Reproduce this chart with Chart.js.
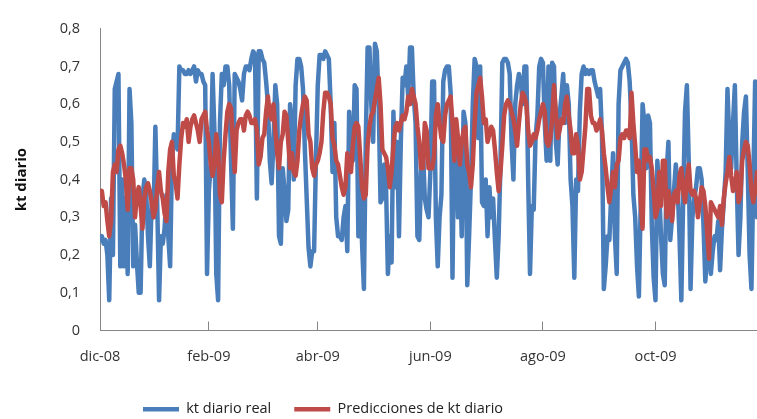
<!DOCTYPE html>
<html>
<head>
<meta charset="utf-8">
<script src="https://cdn.jsdelivr.net/npm/chart.js@4"></script>
<style>
  body { margin: 0; background: #fff; }
  #chart { display: block; }
</style>
</head>
<body>
<canvas id="chart" width="757" height="419"></canvas>
<script>
// kt diario real, one value per day from 4 dic 2008
const ktReal = [
  0.24, 0.25, 0.23, 0.24, 0.20, 0.08, 0.35, 0.20, 0.64, 0.66,
  0.68, 0.17, 0.40, 0.17, 0.35, 0.15, 0.64, 0.55, 0.17, 0.28,
  0.18, 0.10, 0.10, 0.35, 0.40, 0.37, 0.25, 0.17, 0.34, 0.30,
  0.54, 0.34, 0.08, 0.25, 0.23, 0.27, 0.36, 0.25, 0.17, 0.45,
  0.52, 0.50, 0.48, 0.70, 0.69, 0.69, 0.68, 0.68, 0.69, 0.68,
  0.69, 0.70, 0.66, 0.69, 0.68, 0.68, 0.66, 0.65, 0.15, 0.37,
  0.44, 0.68, 0.53, 0.15, 0.08, 0.55, 0.68, 0.65, 0.70, 0.70,
  0.65, 0.45, 0.27, 0.68, 0.67, 0.66, 0.64, 0.61, 0.68, 0.70,
  0.70, 0.69, 0.72, 0.74, 0.73, 0.35, 0.74, 0.74, 0.72, 0.71,
  0.66, 0.60, 0.45, 0.39, 0.50, 0.65, 0.60, 0.25, 0.23, 0.43,
  0.37, 0.29, 0.32, 0.60, 0.55, 0.40, 0.65, 0.72, 0.72, 0.70,
  0.64, 0.48, 0.35, 0.22, 0.17, 0.21, 0.21, 0.45, 0.65, 0.73,
  0.73, 0.72, 0.74, 0.73, 0.72, 0.60, 0.42, 0.55, 0.30, 0.25,
  0.25, 0.24, 0.30, 0.33, 0.21, 0.58, 0.48, 0.45, 0.65, 0.64,
  0.25, 0.43, 0.23, 0.11, 0.50, 0.75, 0.75, 0.60, 0.50, 0.76,
  0.74, 0.60, 0.34, 0.35, 0.44, 0.38, 0.15, 0.25, 0.18, 0.58,
  0.38, 0.50, 0.25, 0.50, 0.67, 0.65, 0.70, 0.62, 0.75, 0.75,
  0.62, 0.55, 0.25, 0.24, 0.42, 0.48, 0.35, 0.32, 0.30, 0.42,
  0.66, 0.66, 0.30, 0.17, 0.30, 0.36, 0.66, 0.69, 0.70, 0.70,
  0.63, 0.14, 0.55, 0.50, 0.30, 0.45, 0.25, 0.58, 0.55, 0.12,
  0.25, 0.40, 0.60, 0.72, 0.70, 0.51, 0.70, 0.34, 0.33, 0.40,
  0.25, 0.38, 0.30, 0.35, 0.24, 0.14, 0.25, 0.44, 0.71, 0.72,
  0.72, 0.71, 0.68, 0.50, 0.40, 0.60, 0.65, 0.68, 0.66, 0.60,
  0.70, 0.70, 0.40, 0.15, 0.33, 0.32, 0.51, 0.57, 0.70, 0.72,
  0.71, 0.55, 0.45, 0.70, 0.45, 0.71, 0.70, 0.50, 0.44, 0.57,
  0.62, 0.68, 0.55, 0.65, 0.60, 0.40, 0.33, 0.14, 0.40, 0.37,
  0.58, 0.68, 0.70, 0.68, 0.69, 0.68, 0.69, 0.69, 0.66, 0.64,
  0.62, 0.64, 0.52, 0.11, 0.17, 0.25, 0.24, 0.36, 0.47, 0.25,
  0.15, 0.60, 0.69, 0.70, 0.71, 0.72, 0.71, 0.66, 0.55, 0.36,
  0.30, 0.17, 0.09, 0.34, 0.60, 0.55, 0.43, 0.57, 0.55, 0.28,
  0.14, 0.08, 0.45, 0.37, 0.25, 0.15, 0.12, 0.42, 0.50, 0.24,
  0.30, 0.37, 0.44, 0.38, 0.25, 0.08, 0.35, 0.58, 0.65, 0.45,
  0.11, 0.30, 0.35, 0.38, 0.43, 0.43, 0.40, 0.28, 0.13, 0.20,
  0.25, 0.15, 0.21, 0.25, 0.24, 0.29, 0.16, 0.27, 0.34, 0.42,
  0.64, 0.50, 0.43, 0.55, 0.65, 0.40, 0.20, 0.30, 0.50, 0.58,
  0.62, 0.42, 0.20, 0.11, 0.40, 0.66, 0.30
]

// Predicciones de kt diario
const ktPred = [
  0.36, 0.37, 0.33, 0.34, 0.29, 0.25, 0.29, 0.42, 0.44, 0.42,
  0.48, 0.49, 0.47, 0.44, 0.40, 0.32, 0.43, 0.43, 0.40, 0.30,
  0.36, 0.38, 0.33, 0.27, 0.35, 0.38, 0.39, 0.37, 0.34, 0.30,
  0.32, 0.38, 0.42, 0.37, 0.35, 0.31, 0.29, 0.42, 0.48, 0.50,
  0.41, 0.39, 0.35, 0.44, 0.51, 0.55, 0.54, 0.56, 0.50, 0.54,
  0.56, 0.57, 0.55, 0.53, 0.50, 0.56, 0.57, 0.58, 0.53, 0.50,
  0.44, 0.41, 0.44, 0.52, 0.48, 0.36, 0.34, 0.45, 0.52, 0.58,
  0.60, 0.59, 0.50, 0.42, 0.53, 0.55, 0.56, 0.56, 0.53, 0.57,
  0.58, 0.57, 0.55, 0.55, 0.56, 0.53, 0.44, 0.46, 0.51, 0.52,
  0.58, 0.62, 0.57, 0.56, 0.60, 0.53, 0.47, 0.43, 0.50, 0.52,
  0.58, 0.57, 0.50, 0.43, 0.47, 0.42, 0.41, 0.45, 0.53, 0.57,
  0.60, 0.62, 0.61, 0.52, 0.50, 0.43, 0.41, 0.44, 0.45, 0.47,
  0.50, 0.58, 0.63, 0.63, 0.62, 0.60, 0.51, 0.49, 0.45, 0.44,
  0.41, 0.38, 0.36, 0.38, 0.47, 0.44, 0.42, 0.49, 0.54, 0.55,
  0.54, 0.46, 0.38, 0.35, 0.36, 0.49, 0.54, 0.57, 0.58, 0.61,
  0.64, 0.67, 0.60, 0.48, 0.47, 0.46, 0.43, 0.38, 0.42, 0.49,
  0.54, 0.55, 0.53, 0.55, 0.57, 0.56, 0.58, 0.62, 0.60, 0.64,
  0.62, 0.60, 0.54, 0.50, 0.43, 0.43, 0.55, 0.53, 0.43, 0.43,
  0.43, 0.46, 0.57, 0.60, 0.55, 0.51, 0.50, 0.57, 0.60, 0.61,
  0.62, 0.55, 0.45, 0.56, 0.51, 0.44, 0.50, 0.53, 0.54, 0.44,
  0.42, 0.38, 0.44, 0.55, 0.63, 0.65, 0.67, 0.62, 0.55, 0.56,
  0.50, 0.52, 0.54, 0.53, 0.48, 0.42, 0.37, 0.42, 0.49, 0.57,
  0.60, 0.61, 0.60, 0.58, 0.56, 0.53, 0.49, 0.55, 0.60, 0.63,
  0.62, 0.60, 0.53, 0.49, 0.50, 0.52, 0.51, 0.53, 0.56, 0.58,
  0.60, 0.58, 0.50, 0.49, 0.51, 0.56, 0.65, 0.58, 0.51, 0.53,
  0.56, 0.55, 0.60, 0.62, 0.57, 0.53, 0.47, 0.47, 0.52, 0.49,
  0.40, 0.42, 0.48, 0.54, 0.64, 0.64, 0.57, 0.55, 0.55, 0.53,
  0.54, 0.56, 0.53, 0.47, 0.43, 0.38, 0.34, 0.38, 0.42, 0.38,
  0.44, 0.45, 0.51, 0.52, 0.51, 0.53, 0.53, 0.51, 0.63, 0.55,
  0.49, 0.42, 0.45, 0.34, 0.27, 0.48, 0.48, 0.45, 0.46, 0.43,
  0.37, 0.30, 0.32, 0.42, 0.33, 0.45, 0.45, 0.30, 0.37, 0.33,
  0.29, 0.36, 0.37, 0.34, 0.41, 0.43, 0.37, 0.34, 0.40, 0.44,
  0.37, 0.36, 0.37, 0.35, 0.30, 0.34, 0.38, 0.37, 0.33, 0.26,
  0.19, 0.34, 0.33, 0.32, 0.31, 0.30, 0.33, 0.28, 0.35, 0.39,
  0.42, 0.46, 0.41, 0.37, 0.38, 0.42, 0.34, 0.36, 0.45, 0.48,
  0.50, 0.49, 0.44, 0.37, 0.34, 0.37, 0.42
]

// Axis labels (days counted from 4 dic 2008)
const tickDays = [0, 59, 118, 179, 240, 301]
const tickLabels = ['dic-08', 'feb-09', 'abr-09', 'jun-09', 'ago-09', 'oct-09']

const toPoints = (values) => values.map((v, i) => ({ x: i, y: v }))

Chart.defaults.font.family = "'Open Sans', sans-serif"
Chart.defaults.color = '#333'

// Legend sits lower and more to the left than Chart.js would put it
const legendPlace = {
  id: 'legendPlace',
  afterUpdate: (chart) => {
    chart.legend.left = 120
    chart.legend.top = 379
  }
}

new Chart(document.querySelector('#chart'), {
  type: 'line',
  data: {
    datasets: [
      {
        label: 'kt diario real',
        data: toPoints(ktReal),
        borderColor: '#4A7EBB',
        borderWidth: 4.5,
        order: 2
      },
      {
        label: 'Predicciones de kt diario',
        data: toPoints(ktPred),
        borderColor: '#BE4B48',
        borderWidth: 4.5,
        order: 1
      }
    ]
  },
  options: {
    responsive: false,
    animation: false,
    layout: {
      padding: { top: 22, right: 0, bottom: 0, left: 0 }
    },
    elements: {
      point: { radius: 0, pointStyle: 'line' },
      line: { tension: 0, borderJoinStyle: 'round', borderCapStyle: 'round' }
    },
    plugins: {
      tooltip: { enabled: false },
      legend: {
        position: 'bottom',
        align: 'start',
        labels: {
          usePointStyle: true,
          pointStyle: 'line',
          pointStyleWidth: 36,
          padding: 23,
          color: '#222',
          font: { size: 14.5 },
          sort: (a, b) => a.datasetIndex - b.datasetIndex
        }
      }
    },
    scales: {
      x: {
        type: 'linear',
        min: 0,
        max: ktReal.length - 1,
        afterBuildTicks: (axis) => {
          axis.ticks = tickDays.map((v) => ({ value: v }))
        },
        afterFit: (axis) => {
          axis.height = 41
        },
        ticks: {
          autoSkip: false,
          maxRotation: 0,
          padding: 27,
          font: { size: 14.5 },
          callback: (value) => tickLabels[tickDays.indexOf(value)]
        },
        grid: { drawOnChartArea: false, drawTicks: true, tickLength: -9, color: '#868686' },
        border: { color: '#868686' }
      },
      y: {
        min: 0,
        max: 0.8,
        afterFit: (axis) => {
          axis.width = 100
        },
        ticks: {
          stepSize: 0.1,
          padding: 20,
          font: { size: 14.5 },
          callback: (value) => value === 0 ? '0' : value.toFixed(1).replace('.', ',')
        },
        grid: { drawOnChartArea: false, drawTicks: false },
        border: { color: '#868686' },
        title: {
          display: true,
          text: 'kt diario',
          color: '#111',
          font: { size: 15, weight: 'bold' },
          padding: { top: 13, bottom: 0 }
        }
      }
    }
  },
  plugins: [legendPlace]
})
</script>
</body>
</html>
